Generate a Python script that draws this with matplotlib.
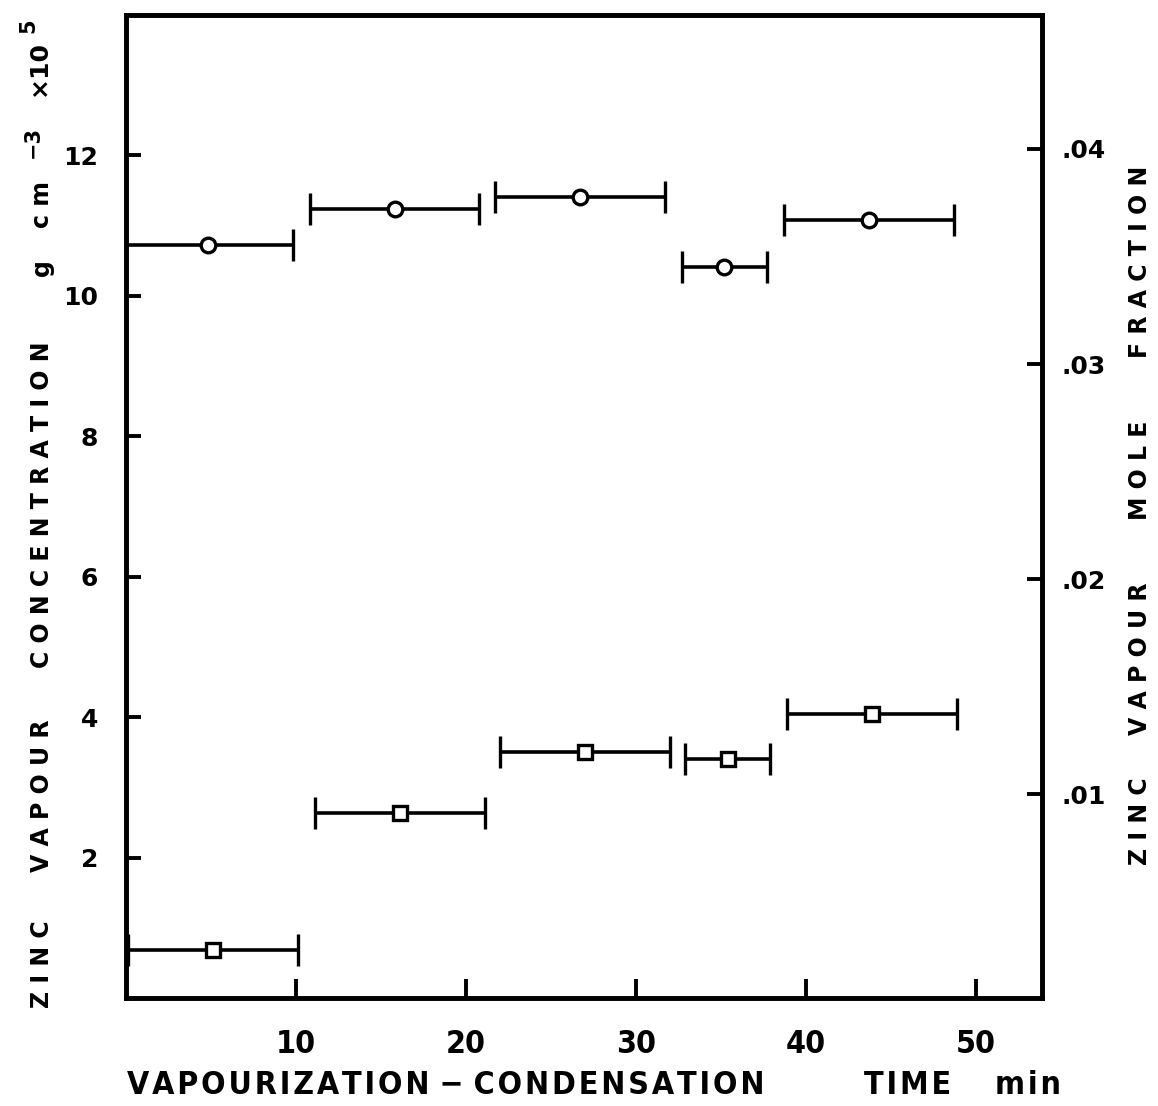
import matplotlib
matplotlib.use("Agg")
import matplotlib.pyplot as plt
from matplotlib import font_manager

# Sampling intervals (min): centre of each interval and half-width
circle_time = [4.8, 15.8, 26.7, 35.2, 43.7]
circle_halfwidth = [5.0, 5.0, 5.0, 2.5, 5.0]
circle_conc = [10.72, 11.24, 11.41, 10.41, 11.08]   # g cm^-3 x 10^5

square_time = [5.1, 16.1, 27.0, 35.4, 43.9]
square_halfwidth = [5.0, 5.0, 5.0, 2.5, 5.0]
square_conc = [0.69, 2.64, 3.51, 3.40, 4.05]        # g cm^-3 x 10^5

x_ticks = [10, 20, 30, 40, 50]
left_ticks = [2, 4, 6, 8, 10, 12]
right_ticks = [0.01, 0.02, 0.03, 0.04]
right_tick_labels = [".01", ".02", ".03", ".04"]

W, H = 1158, 1106
fig = plt.figure(figsize=(W / 100, H / 100), dpi=100)
fig.patch.set_facecolor("white")

# A condensed face for the time axis, if one is installed
cond_stretch = "normal"
for f in font_manager.fontManager.ttflist:
    if f.name == "DejaVu Sans" and f.stretch in ("condensed", "semi-condensed"):
        cond_stretch = "condensed"
        break

left, right, top, bottom = 126, 1042, 15, 998
ax = fig.add_axes([left / W, 1 - bottom / H, (right - left) / W, (bottom - top) / H])
ax.set_xlim(0, 53.9)
ax.set_ylim(0, 14)

lw = 3.3
for s in ax.spines.values():
    s.set_linewidth(lw)

common = dict(color="black", ecolor="black", elinewidth=2.6, capsize=11.5,
              capthick=2.6, mfc="white", mec="black", mew=2.4, ls="none", zorder=3)
ax.errorbar(circle_time, circle_conc, xerr=circle_halfwidth, fmt="o", ms=10.5, **common)
ax.errorbar(square_time, square_conc, xerr=square_halfwidth, fmt="s", ms=10, **common)

ax.set_xticks(x_ticks)
ax.set_xticklabels([str(t) for t in x_ticks], family="DejaVu Sans",
                   fontstretch=cond_stretch, fontweight="bold", fontsize=23)
ax.set_yticks(left_ticks)
ax.set_yticklabels([str(t) for t in left_ticks], family="DejaVu Sans",
                   fontweight="bold", fontsize=18)
ax.tick_params(axis="x", direction="in", length=14, width=2.8, pad=22)
ax.tick_params(axis="y", direction="in", length=11, width=2.8, pad=20, right=False)

ax2 = ax.twinx()
ax2.set_ylim(0.00054, 0.04622)
ax2.set_yticks(right_ticks)
ax2.set_yticklabels(right_tick_labels, family="DejaVu Sans", fontweight="bold", fontsize=18)
ax2.tick_params(axis="y", direction="in", length=11, width=2.8, pad=14)
for s in ax2.spines.values():
    s.set_linewidth(lw)


def vtext(x, y, s, size=17):
    fig.text(x / W, 1 - y / H, s, rotation=90, ha="center", va="center",
             fontsize=size, fontweight="bold", family="DejaVu Sans")


# Left axis title, word by word with open letter spacing
vtext(42, 964, "Z I N C")
vtext(42, 796, "V A P O U R")
vtext(42, 505, "C O N C E N T R A T I O N")
vtext(42, 268, "g")
vtext(42, 205, "c m")
vtext(33, 142, "−3", size=15)
vtext(39, 68, "×10", size=18)
vtext(28, 26, "5", size=15)

# Right axis title
vtext(1140, 821, "Z I N C")
vtext(1140, 659, "V A P O U R")
vtext(1140, 470, "M O L E")
vtext(1140, 262, "F R A C T I O N")


# Bottom axis title
def htext(x, y, s, size=23):
    fig.text(x / W, 1 - y / H, s, ha="center", va="center", fontsize=size,
             fontweight="bold", family="DejaVu Sans", fontstretch=cond_stretch)


def track(word, sep="\u200a"):
    return sep.join(word)


htext(446, 1085, track("VAPOURIZATION") + " \u2212 " + track("CONDENSATION"))
htext(908, 1085, track("TIME"))
htext(1028, 1085, track("min"))

fig.savefig("out.png", dpi=100, facecolor="white")
